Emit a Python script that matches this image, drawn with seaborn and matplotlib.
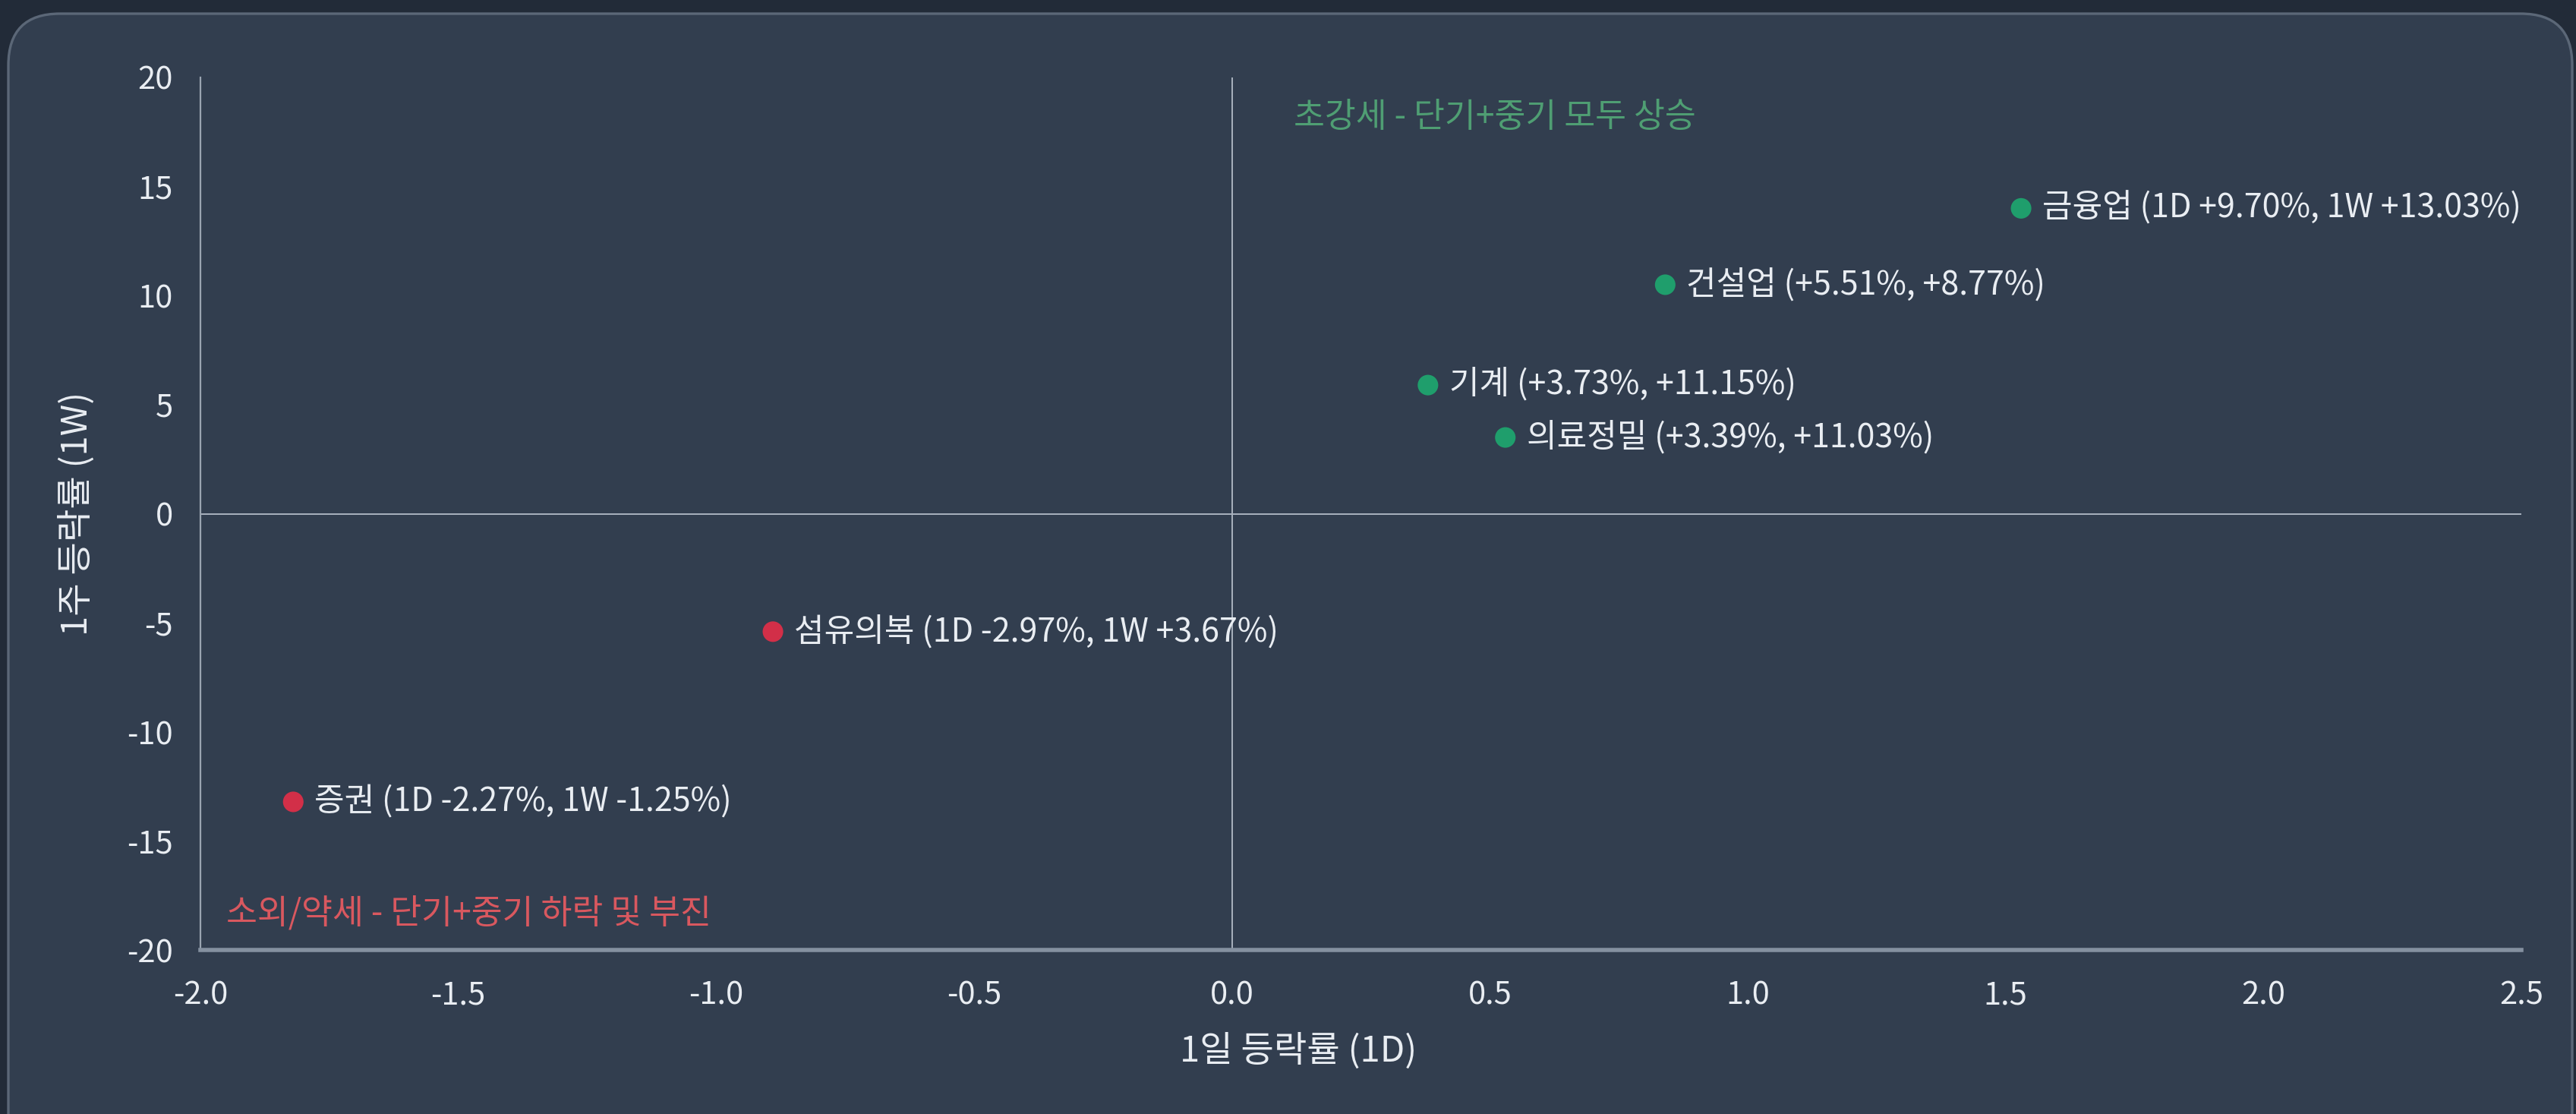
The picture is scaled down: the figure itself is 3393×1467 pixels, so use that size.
import matplotlib
matplotlib.use("Agg")
import matplotlib.pyplot as plt
import seaborn as sns
import pandas as pd
from matplotlib.patches import FancyBboxPatch

# ---- data ----
sectors = ["금융업", "건설업", "기계", "의료정밀", "섬유의복", "증권"]
x_1d = [1.53, 0.84, 0.38, 0.53, -0.89, -1.82]
y_1w = [14.0, 10.5, 5.9, 3.5, -5.4, -13.2]
groups = ["up", "up", "up", "up", "down", "down"]
labels = [
    "금융업 (1D +9.70%, 1W +13.03%)",
    "건설업 (+5.51%, +8.77%)",
    "기계 (+3.73%, +11.15%)",
    "의료정밀 (+3.39%, +11.03%)",
    "섬유의복 (1D -2.97%, 1W +3.67%)",
    "증권 (1D -2.27%, 1W -1.25%)",
]
x_ticks = [-2.0, -1.5, -1.0, -0.5, 0.0, 0.5, 1.0, 1.5, 2.0, 2.5]
y_ticks = [-20, -15, -10, -5, 0, 5, 10, 15, 20]
quad_top = "초강세 - 단기+중기 모두 상승"
quad_bottom = "소외/약세 - 단기+중기 하락 및 부진"
x_label = "1일 등락률 (1D)"
y_label = "1주 등락률 (1W)"

df = pd.DataFrame({"sector": sectors, "x": x_1d, "y": y_1w, "group": groups, "label": labels})

OUTER = "#222b38"
PANEL = "#323e4f"
TXT = "#e9edf2"
GREEN = "#1f9e6c"
RED = "#d22f48"

sns.set_theme(style="dark")
plt.rcParams["font.family"] = ["Noto Sans CJK KR", "DejaVu Sans"]

fig = plt.figure(figsize=(16.965, 7.335), dpi=200)
fig.patch.set_facecolor(OUTER)
panel = FancyBboxPatch((11 / 3393, -0.05), (3393 - 16) / 3393, 1.05 - 18 / 1467,
                       boxstyle="round,pad=0,rounding_size=0.02",
                       transform=fig.transFigure, facecolor=PANEL,
                       edgecolor="#5b6777", linewidth=1.2, zorder=-10,
                       mutation_aspect=3393 / 1467)
fig.patches.append(panel)

ax = fig.add_axes([0.0778, 0.147, 0.9010, 0.7835])
ax.set_zorder(5)
ax.set_facecolor("none")
ax.patch.set_alpha(0)

ax.axhline(0, color="#aab3bf", lw=0.7, zorder=1)
ax.axvline(0, color="#aab3bf", lw=0.7, zorder=1)

sns.scatterplot(data=df, x="x", y="y", hue="group",
                palette={"up": GREEN, "down": RED}, s=95, edgecolor="none",
                legend=False, ax=ax, zorder=3)

for _, r in df.iterrows():
    ax.annotate(r["label"], (r["x"], r["y"]), xytext=(10, 0), textcoords="offset points",
                va="center", ha="left", color=TXT, fontsize=15.5)

ax.text(0.12, 18.2, quad_top, color="#4f9e73", fontsize=16, va="center", ha="left")
ax.text(-1.95, -18.3, quad_bottom, color="#d9585f", fontsize=16, va="center", ha="left")

ax.set_xlim(-2.0, 2.5)
ax.set_ylim(-20, 20)
ax.set_xticks(x_ticks)
ax.set_xticklabels([f"{v:.1f}" for v in x_ticks])
ax.set_yticks(y_ticks)
ax.set_yticklabels([str(v) for v in y_ticks])
ax.tick_params(axis="both", colors=TXT, labelsize=15, length=0)
ax.tick_params(axis="x", pad=14)
ax.tick_params(axis="y", pad=13)

ax.set_xlabel(x_label, color=TXT, fontsize=17)
ax.set_ylabel(y_label, color=TXT, fontsize=17)
ax.xaxis.set_label_coords(0.473, -0.095)
ax.yaxis.set_label_coords(-0.053, 0.5)
ax.yaxis.label.set_va("center")
ax.xaxis.label.set_va("top")

for side in ["top", "right"]:
    ax.spines[side].set_visible(False)
ax.spines["left"].set_color("#9aa4b1")
ax.spines["left"].set_linewidth(0.8)
ax.spines["bottom"].set_color("#8591a0")
ax.spines["bottom"].set_linewidth(2.0)
ax.grid(False)

fig.savefig("out.png", dpi=200, facecolor=OUTER)
